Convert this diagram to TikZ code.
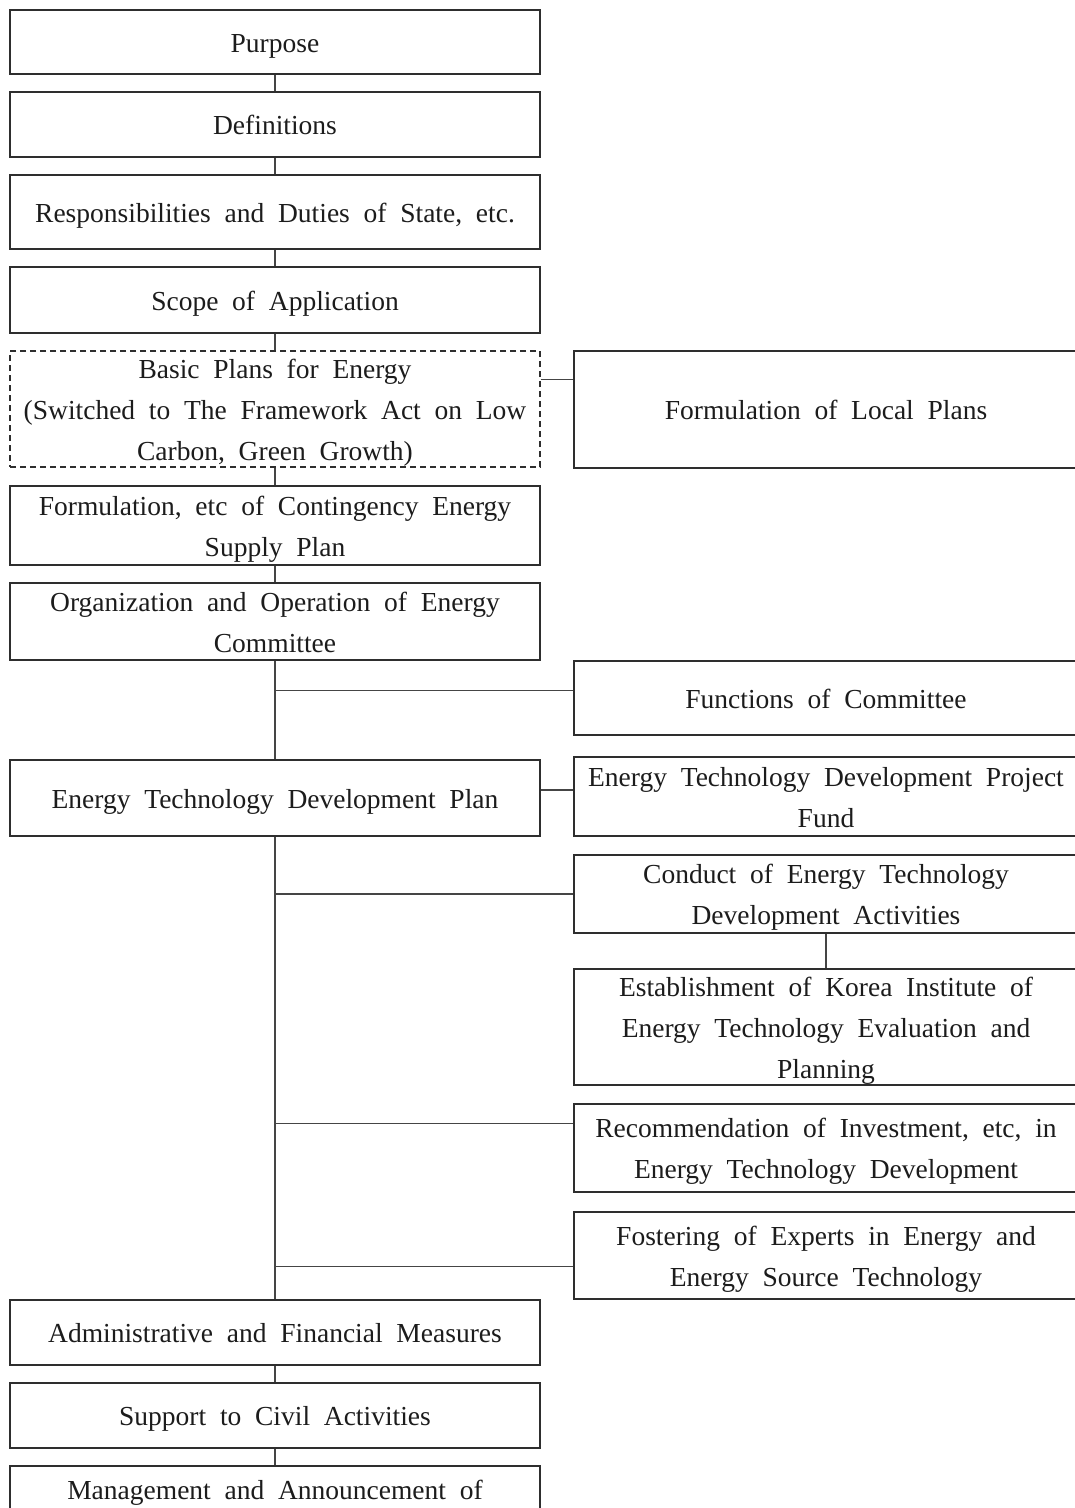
\documentclass[tikz,border=0pt]{standalone}
\usepackage{fontspec}
\setmainfont{Liberation Serif}
\definecolor{inkline}{HTML}{2E2E2E}
\definecolor{linkline}{HTML}{454545}
\definecolor{inktext}{HTML}{1C1C1C}
\newcommand\chartfont{\fontsize{27.5pt}{41pt}\selectfont\spaceskip=0.5em plus 0.1em minus 0.05em\relax}
% fixed line height and depth, so every line sits at the same place in its box
\newcommand\ls{\rule[-6pt]{0pt}{32pt}}
\begin{document}
\begin{tikzpicture}[x=1pt, y=-1pt,
  box/.style={draw=inkline, line width=1.4pt, rectangle, inner sep=0pt,
    align=center, text=inktext, font=\chartfont},
  leftbox/.style={box, minimum width=530pt},
  rightbox/.style={box, minimum width=504pt},
  dashbox/.style={leftbox, dash pattern=on 6pt off 4pt},
  link/.style={draw=linkline, line width=1.3pt}]
\useasboundingbox (0,0) rectangle (1075,1508);
\clip (0,0) rectangle (1075,1508);
\fill[white] (0,0) rectangle (1075,1508);

% main column
\node[leftbox, minimum height=64pt] (purpose) at (275,42) {\ls Purpose};
\node[leftbox, minimum height=65pt] (defs) at (275,124.5) {\ls Definitions};
\node[leftbox, minimum height=74pt] (resp) at (275,212) {\ls Responsibilities and Duties of State, etc.};
\node[leftbox, minimum height=66pt] (scope) at (275,300) {\ls Scope of Application};
\node[dashbox, minimum height=116pt] (basic) at (275,409)
  {\ls Basic Plans for Energy\\\ls (Switched to The Framework Act on Low\\\ls Carbon, Green Growth)};
\node[leftbox, minimum height=79pt] (conting) at (275,525.5)
  {\ls Formulation, etc of Contingency Energy\\\ls Supply Plan};
\node[leftbox, minimum height=77pt] (org) at (275,621.5)
  {\ls Organization and Operation of Energy\\\ls Committee};
\node[leftbox, minimum height=76pt] (etdp) at (275,798) {\ls Energy Technology Development Plan};
\node[leftbox, minimum height=65pt] (admin) at (275,1332.5) {\ls Administrative and Financial Measures};
\node[leftbox, minimum height=65pt] (support) at (275,1415.5) {\ls Support to Civil Activities};
\node[leftbox, minimum height=88pt] (mgmt) at (275,1510)
  {\ls Management and Announcement of\\\ls};

% side column
\node[rightbox, minimum height=117pt] (local) at (826,409.5) {\ls Formulation of Local Plans};
\node[rightbox, minimum height=74pt] (functions) at (826,698) {\ls Functions of Committee};
\node[rightbox, minimum height=79pt] (fund) at (826,796.5)
  {\ls Energy Technology Development Project\\\ls Fund};
\node[rightbox, minimum height=78pt] (conduct) at (826,894)
  {\ls Conduct of Energy Technology\\\ls Development Activities};
\node[rightbox, minimum height=116pt] (estab) at (826,1027)
  {\ls Establishment of Korea Institute of\\\ls Energy Technology Evaluation and\\\ls Planning};
\node[rightbox, minimum height=88pt] (recom) at (826,1148)
  {\ls Recommendation of Investment, etc, in\\\ls Energy Technology Development};
\node[rightbox, minimum height=87pt] (foster) at (826,1255.5)
  {\ls Fostering of Experts in Energy and\\\ls Energy Source Technology};

% main column links
\draw[link] (purpose.south) -- (defs.north);
\draw[link] (defs.south) -- (resp.north);
\draw[link] (resp.south) -- (scope.north);
\draw[link] (scope.south) -- (basic.north);
\draw[link] (basic.south) -- (conting.north);
\draw[link] (conting.south) -- (org.north);
\draw[link] (org.south) -- (etdp.north);
\draw[link] (etdp.south) -- (admin.north);
\draw[link] (admin.south) -- (support.north);
\draw[link] (support.south) -- (mgmt.north);

% branches to the side column
\draw[link] ([yshift=-29pt]basic.north east) -- ([yshift=-29pt]local.north west);
\path (org.south) ++(0,30) coordinate (orgjoin);
\draw[link] (orgjoin) -- (orgjoin -| functions.west);
\draw[link] ([yshift=8pt]etdp.east) -- ([yshift=8pt]fund.west |- etdp.east);
\draw[link] (conduct.west) -- (conduct.west -| etdp.south);
\draw[link] ([yshift=-20pt]recom.north west) -- ([yshift=-20pt]recom.north west -| etdp.south);
\draw[link] ([yshift=-55pt]foster.north west) -- ([yshift=-55pt]foster.north west -| etdp.south);
\draw[link] (conduct.south) -- (estab.north);
\end{tikzpicture}
\end{document}
